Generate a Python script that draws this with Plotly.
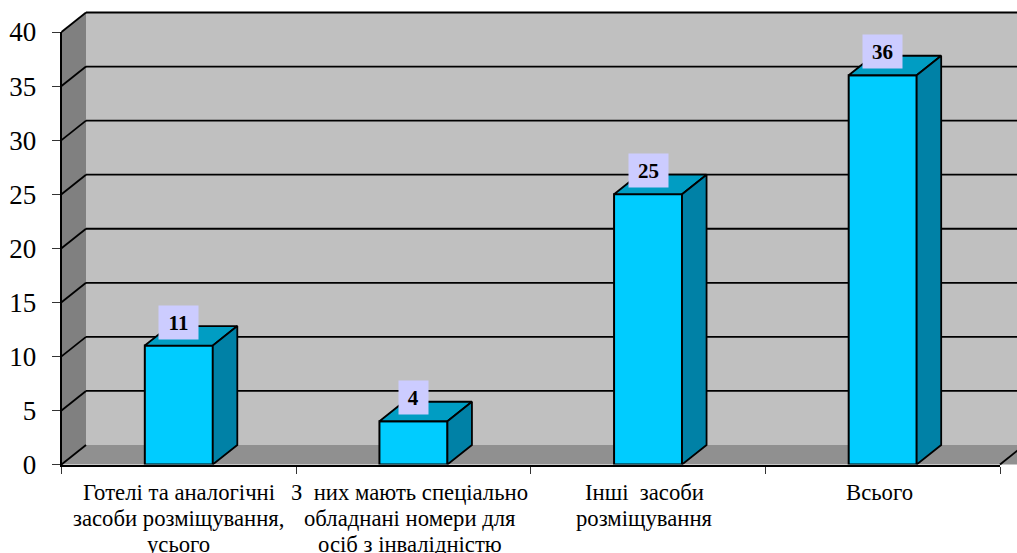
import plotly.graph_objects as go

categories = [
    "Готелі та аналогічні<br>засоби розміщування,<br>усього",
    "З\u00a0 них мають спеціально<br>обладнані номери для<br>осіб з інвалідністю",
    "Інші\u00a0 засоби<br>розміщування",
    "Всього",
]
values = [11, 4, 25, 36]
y_ticks = [0, 5, 10, 15, 20, 25, 30, 35, 40]

W, H = 1017, 553
LEFT, RIGHT = 61.5, 1000.0
BOTTOM, TOP = 464.5, 32.0
n = len(values)
px_x = (RIGHT - LEFT) / n
px_y = (BOTTOM - TOP) / y_ticks[-1]
dx = 24.5 / px_x          # depth, category units
dy = 19.5 / px_y          # depth, value units
bw = 68 / px_x            # bar width
x0, x1 = -0.5, n - 0.5
y1 = y_ticks[-1]

BLACK = "#000000"
traces = []

def poly(xs, ys, fill, axes=("x", "y"), lw=0):
    traces.append(go.Scatter(
        x=xs + xs[:1], y=ys + ys[:1], mode="lines", fill="toself", fillcolor=fill,
        line=dict(color=BLACK, width=lw), xaxis=axes[0], yaxis=axes[1],
        hoverinfo="skip", showlegend=False))

far = x1 + 1
# back wall, left wall, floor
poly([x0 + dx, far, far, x0 + dx], [dy, dy, y1 + dy, y1 + dy], "#C0C0C0")
poly([x0, x0 + dx, x0 + dx, x0], [0, dy, y1 + dy, y1], "#808080")
poly([x0, x0 + dx, far + dx, far], [0, dy, dy, 0], "#909090")

# gridlines on the back wall and left wall
gx, gy = [], []
for t in y_ticks:
    if t > 0:
        gx += [x0 + dx, far, None]
        gy += [t + dy, t + dy, None]
    gx += [x0, x0 + dx, None]
    gy += [t, t + dy, None]
gx += [x1, x1 + dx, None]
gy += [0, dy, None]
traces.append(go.Scatter(x=gx, y=gy, mode="lines", line=dict(color=BLACK, width=1.8),
                         hoverinfo="skip", showlegend=False))

# bars
xs = list(range(n))
traces.append(go.Bar(x=xs, y=values, width=bw, marker=dict(color="#00CCFF", line=dict(color=BLACK, width=2)),
                     xaxis="x2", yaxis="y2", hoverinfo="skip", showlegend=False))
for i, v in zip(xs, values):
    l, r = i - bw / 2, i + bw / 2
    poly([l, r, r + dx, l + dx], [v, v, v + dy, v + dy], "#009DC3", ("x2", "y2"), 1.8)
    poly([r, r + dx, r + dx, r], [0, dy, v + dy, v], "#0081A6", ("x2", "y2"), 1.8)

annotations = [
    dict(x=i, y=v, xref="x2", yref="y2", yshift=23.5, text=f"<b>{v}</b>", showarrow=False,
         bgcolor="#CCCCFF", width=16 + 10.5 * len(str(v)), height=31, align="center", valign="middle",
         font=dict(family="Liberation Serif", size=21, color=BLACK))
    for i, v in zip(xs, values)
]

# category labels: one text per line, the reference's leading is tighter than a tick label's
label_xshift = [0, -3.5, -3.5, -3]
for i, label in zip(xs, categories):
    for k, line in enumerate(label.split("<br>")):
        annotations.append(dict(
            x=i, y=0, xref="x2", yref="y2", xshift=label_xshift[i], yshift=-27.5 - 26 * k,
            text=line, showarrow=False, font=dict(family="Liberation Serif", size=22.7, color=BLACK)))

fig = go.Figure(traces)
fig.update_layout(
    template="none",
    width=W, height=H, autosize=False, margin=dict(l=0, r=0, t=0, b=0, pad=0),
    paper_bgcolor="white", plot_bgcolor="rgba(0,0,0,0)",
    font=dict(family="Liberation Serif", color=BLACK),
    annotations=annotations,
    xaxis=dict(domain=[0, 1], range=[x0 - LEFT / px_x, x1 + (W - RIGHT) / px_x], visible=False, automargin=False),
    yaxis=dict(domain=[0, 1], range=[-(H - BOTTOM) / px_y, BOTTOM / px_y], visible=False, automargin=False),
    xaxis2=dict(domain=[LEFT / W, RIGHT / W], range=[x0, x1], anchor="y2", showgrid=False, zeroline=False,
                automargin=False, showline=True, linecolor=BLACK, linewidth=2,
                tickmode="array", tickvals=xs, ticks="", showticklabels=False,
                minor=dict(tickmode="array", tickvals=[k - 0.5 for k in range(n + 1)], ticks="outside",
                           ticklen=7, tickwidth=1, tickcolor="#333333", showgrid=False)),
    yaxis2=dict(domain=[1 - BOTTOM / H, 1 - TOP / H], range=[0, y1], anchor="x2", showgrid=False, zeroline=False,
                automargin=False, showline=True, linecolor=BLACK, linewidth=1.5,
                tickmode="array", tickvals=y_ticks, ticks="outside", ticklen=8, tickwidth=1, tickcolor="#333333",
                ticklabelstandoff=10, tickfont=dict(size=27)),
)
fig.write_html("out.html", config=dict(displayModeBar=False), default_width=f"{W}px", default_height=f"{H}px",
               post_script="document.body.style.margin='0';document.documentElement.style.overflow='hidden';document.body.style.overflow='hidden';")
